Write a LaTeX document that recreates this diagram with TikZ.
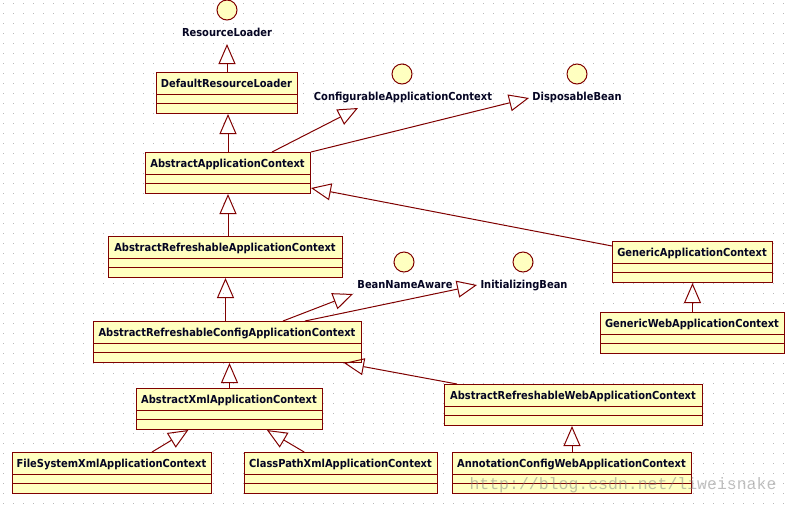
\documentclass[tikz,border=0pt]{standalone}
\usepackage{fontspec}
\newfontfamily\umlfont{DejaVu Sans Condensed}
\newfontfamily\wmfont{Liberation Mono}
\usetikzlibrary{arrows.meta,calc}
\definecolor{umlred}{RGB}{128,0,0}
\definecolor{umlyellow}{RGB}{255,255,192}
\definecolor{griddot}{RGB}{185,185,185}
\definecolor{umltext}{RGB}{5,5,35}
\newcommand\umlclass[6]{%
  \node[cls, minimum width={(#4-#2)*1pt}, minimum height={(#5-#3)*1pt}] (#1) at (#2,#3) {};
  \draw[clsline] (#2,#3+22) -- (#4,#3+22) (#2,#3+31) -- (#4,#3+31);
  \node[lbl, anchor=base] (#1-t) at ({(#2+#4)/2},#3+15) {#6};
}
\begin{document}
\begin{tikzpicture}[x=1pt,y=-1pt,
  cls/.style={draw=umlred, fill=umlyellow, line width=1pt, inner sep=0pt, anchor=north west},
  clsline/.style={draw=umlred, line width=1pt},
  lbl/.style={font=\umlfont\bfseries\fontsize{11}{13}\selectfont, text=umltext, inner sep=0pt},
  iface/.style={circle, draw=umlred, fill=umlyellow, line width=1pt, minimum size=20pt, inner sep=0pt},
  inh/.style={draw=umlred, line width=1pt, -{Triangle[open, length=20pt, width=17pt]}},
]
\useasboundingbox (0,0) rectangle (791,504);
\fill[white] (0,0) rectangle (791,504);
\foreach \i in {0,...,79} \foreach \j in {0,...,50} \fill[griddot] (\i*10+3, \j*10+3) rectangle ++(1,1);

% classes
\umlclass{DRL}{156}{72}{297}{113}{DefaultResourceLoader}
\umlclass{AAC}{145}{152}{310}{193}{AbstractApplicationContext}
\umlclass{ARAC}{108}{236}{342}{277}{AbstractRefreshableApplicationContext}
\umlclass{ARCAC}{93}{321}{361}{362}{AbstractRefreshableConfigApplicationContext}
\umlclass{AXAC}{136}{388}{322}{429}{AbstractXmlApplicationContext}
\umlclass{FSXAC}{12}{452}{211}{493}{FileSystemXmlApplicationContext}
\umlclass{CPXAC}{244}{452}{437}{493}{ClassPathXmlApplicationContext}
\umlclass{ARWAC}{444}{384}{702}{425}{AbstractRefreshableWebApplicationContext}
\umlclass{ACWAC}{452}{452}{691}{493}{AnnotationConfigWebApplicationContext}
\umlclass{GAC}{612}{241}{772}{282}{GenericApplicationContext}
\umlclass{GWAC}{600}{312}{784}{353}{GenericWebApplicationContext}

% interfaces
\node[iface] (rl) at (227,10) {};
\node[lbl, anchor=base] (rll) at (227,36) {ResourceLoader};
\node[iface] (cac) at (402,74) {};
\node[lbl, anchor=base] (cacl) at (403,100) {ConfigurableApplicationContext};
\node[iface] (db) at (577,74) {};
\node[lbl, anchor=base] (dbl) at (577,100) {DisposableBean};
\node[iface] (bna) at (404,262) {};
\node[lbl, anchor=base] (bnal) at (405,288) {BeanNameAware};
\node[iface] (ib) at (523,262) {};
\node[lbl, anchor=base] (ibl) at (524,288) {InitializingBean};

% generalizations / realizations
\draw[inh] (DRL.north) -- ([yshift=-8pt]rll.base);
\draw[inh] (AAC.north) -- (AAC.north |- DRL.south);
\draw[inh] ([xshift=127pt]AAC.north west) -- ([xshift=-45pt,yshift=-8pt]cacl.base);
\draw[inh] (AAC.north east) -- ([xshift=-48pt,yshift=2pt]dbl.base);
\draw[inh] (AAC.south |- ARAC.north) -- (AAC.south);
\draw[inh] (GAC.north west) ++(0,-5pt) coordinate (gacs) (gacs) -- ([yshift=6pt]AAC.south east);
\draw[inh] (ARCAC.north -| ARAC.south) -- (ARAC.south);
\draw[inh] ([xshift=190pt]ARCAC.north west) -- ([xshift=-52pt,yshift=-6pt]bnal.base);
\draw[inh] ([xshift=212pt]ARCAC.north west) -- ([xshift=-47pt,yshift=3pt]ibl.base);
\draw[inh] (AXAC.north) -- (AXAC.north |- ARCAC.south);
\draw[inh] ([xshift=13pt]ARWAC.north west) -- ([xshift=-18pt]ARCAC.south east);
\draw[inh] ($(FSXAC.north west)!0.70!(FSXAC.north east)$) -- ($(AXAC.south west)!0.28!(AXAC.south east)$);
\draw[inh] ($(CPXAC.north west)!0.31!(CPXAC.north east)$) -- ($(AXAC.south west)!0.70!(AXAC.south east)$);
\draw[inh] (ACWAC.north) -- (ACWAC.north |- ARWAC.south);
\draw[inh] (GWAC.north) -- (GAC.south);

% watermark
\node[font=\wmfont\fontsize{16.5}{18}\selectfont, text=gray, opacity=0.5, anchor=base, inner sep=0pt] (wm) at (623,489) {http://blog.csdn.net/liweisnake};
\end{tikzpicture}
\end{document}
